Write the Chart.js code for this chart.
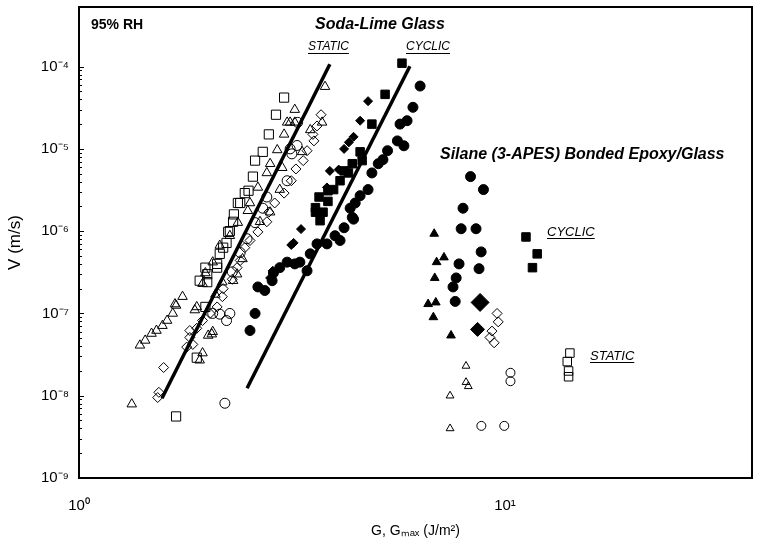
<!DOCTYPE html>
<html><head><meta charset="utf-8">
<script src="https://cdn.jsdelivr.net/npm/chart.js@4/dist/chart.umd.min.js"></script>
<style>html,body{margin:0;padding:0;background:#fff}#wrap{width:758px;height:546px;position:relative}</style>
</head><body><div id="wrap"><canvas id="c"></canvas></div>
<script>
// ---- data: [G (J/m^2), V (m/s)] ----
const sodaStaticSquares = [[3.03,4.2e-5],[2.90,2.6e-5],[2.79,1.5e-5],[2.70,9.2e-6],[2.59,7.2e-6],[2.56,4.6e-6],[2.50,3.1e-6],[2.45,2.9e-6],[2.36,2.2e-6],[2.39,2.2e-6],[2.31,1.6e-6],[2.30,1.3e-6],[2.24,9.8e-7],[2.26,1.0e-6],[2.22,7.2e-7],[2.18,6.3e-7],[2.14,5.3e-7],[2.11,4.0e-7],[2.11,3.6e-7],[1.98,3.6e-7],[2.00,3.0e-7],[2.00,2.4e-7],[1.92,2.5e-7],[1.98,1.2e-7],[1.89,2.9e-8],[1.69,5.6e-9]];
const sodaStaticTriangles = [[3.78,5.7e-5],[3.21,3.0e-5],[3.08,2.1e-5],[3.13,2.1e-5],[3.21,2.1e-5],[3.03,1.5e-5],[2.92,9.7e-6],[2.81,6.6e-6],[2.76,5.1e-6],[2.63,3.4e-6],[2.52,2.2e-6],[2.49,1.77e-6],[2.36,1.27e-6],[2.26,8.8e-7],[2.14,6.7e-7],[2.06,4.2e-7],[1.98,3.1e-7],[1.95,2.3e-7],[1.75,1.6e-7],[1.68,1.3e-7],[1.87,1.1e-7],[2.09,1.7e-7],[2.17,2.4e-7],[2.30,2.5e-7],[2.35,3.0e-7],[2.42,4.6e-7],[3.72,2.1e-5],[3.49,1.7e-5],[3.34,9.2e-6],[3.00,5.9e-6],[2.96,3.2e-6],[2.81,1.7e-6],[2.66,1.3e-6],[2.05,5.6e-8],[1.39,4.1e-8],[1.43,4.7e-8],[1.48,5.7e-8],[1.52,6.2e-8],[1.57,7.1e-8],[1.61,8.2e-8],[1.66,1.0e-7],[1.69,1.25e-7],[1.89,1.2e-7],[1.95,3.3e-8],[1.92,2.7e-8],[2.06,6.0e-8],[2.01,5.4e-8],[1.33,7.9e-9]];
const sodaStaticCircles = [[3.26,2.1e-5],[3.25,1.1e-5],[3.13,1.0e-5],[3.16,8.7e-6],[3.08,4.1e-6],[2.76,2.6e-6],[2.70,1.9e-6],[2.59,1.27e-6],[2.48,8.1e-7],[2.39,5.5e-7],[2.29,3.2e-7],[2.26,1.0e-7],[2.22,8.2e-8],[2.14,9.8e-8],[2.06,1.0e-7],[2.20,8.1e-9]];
const sodaStaticDiamonds = [[3.70,2.6e-5],[3.62,1.9e-5],[3.54,1.5e-5],[3.56,1.25e-5],[3.43,9.5e-6],[3.36,7.2e-6],[3.23,5.7e-6],[3.15,4.1e-6],[3.03,2.9e-6],[2.88,2.2e-6],[2.79,1.7e-6],[2.76,1.3e-6],[2.63,9.8e-7],[2.52,7.7e-7],[2.45,6.3e-7],[2.39,4.4e-7],[2.35,3.6e-7],[2.29,2.6e-7],[2.18,2.0e-7],[2.17,1.6e-7],[2.11,1.2e-7],[2.03,1.0e-7],[1.95,8.2e-8],[1.89,6.6e-8],[1.82,6.2e-8],[1.85,4.2e-8],[1.82,5.1e-8],[1.79,3.9e-8],[1.58,2.2e-8],[1.54,1.1e-8],[1.53,9.5e-9]];
const sodaCyclicSquares = [[5.73,1.1e-4],[5.23,4.6e-5],[4.87,2.0e-5],[4.57,9.2e-6],[4.62,7.2e-6],[4.38,6.6e-6],[4.29,5.1e-6],[4.19,5.4e-6],[4.10,4.1e-6],[3.96,3.2e-6],[3.84,3.1e-6],[3.66,2.6e-6],[3.59,1.7e-6],[3.68,1.34e-6],[3.74,1.7e-6],[3.59,1.93e-6],[3.84,2.3e-6]];
const sodaCyclicDiamonds = [[4.77,3.8e-5],[4.57,2.2e-5],[4.41,1.4e-5],[4.30,1.2e-5],[4.19,1.0e-5],[4.07,5.6e-6],[3.88,5.4e-6],[3.82,3.4e-6],[3.32,1.06e-6],[3.19,7.2e-7],[3.15,6.8e-7],[2.85,3.3e-7],[2.81,2.7e-7]];
const sodaCyclicCircles = [[6.32,5.8e-5],[6.08,3.2e-5],[5.89,2.2e-5],[5.67,2.0e-5],[5.59,1.25e-5],[5.79,1.09e-5],[5.30,9.5e-6],[5.17,7.4e-6],[5.04,6.6e-6],[4.87,5.1e-6],[4.77,3.2e-6],[4.57,2.7e-6],[4.45,2.2e-6],[4.33,1.9e-6],[4.38,1.47e-6],[4.41,1.4e-6],[4.19,1.1e-6],[3.99,8.8e-7],[4.10,7.7e-7],[3.82,7.0e-7],[3.62,7.0e-7],[3.49,5.3e-7],[3.43,3.3e-7],[3.30,4.2e-7],[3.21,4.0e-7],[3.08,4.2e-7],[2.96,3.6e-7],[2.86,3.1e-7],[2.84,2.5e-7],[2.73,1.9e-7],[2.63,2.1e-7],[2.59,1.0e-7],[2.52,6.2e-8]];
const silaneCyclicCircles = [[8.3,4.6e-6],[8.9,3.2e-6],[7.97,1.9e-6],[7.89,1.07e-6],[8.55,1.07e-6],[8.79,5.6e-7],[7.80,4.0e-7],[8.69,3.5e-7],[7.68,2.7e-7],[7.55,2.1e-7],[7.64,1.4e-7]];
const silaneCyclicTriangles = [[6.82,9.3e-7],[7.19,4.8e-7],[6.91,4.2e-7],[6.84,2.7e-7],[6.60,1.3e-7],[6.88,1.36e-7],[6.79,9.0e-8],[7.47,5.4e-8]];
const silaneCyclicDiamonds = [[8.74,1.36e-7],[8.62,6.4e-8]];
const silaneCyclicSquares = [[11.2,8.5e-7],[11.9,5.3e-7],[11.6,3.6e-7]];
const silaneStaticTriangles = [[8.1,2.3e-8],[8.1,1.46e-8],[8.2,1.3e-8],[7.43,1.0e-8],[7.43,4.0e-9]];
const silaneStaticCircles = [[10.3,1.9e-8],[10.3,1.5e-8],[8.8,4.3e-9],[9.96,4.3e-9]];
const silaneStaticDiamonds = [[9.58,1.0e-7],[9.64,7.9e-8],[9.32,6.1e-8],[9.22,5.1e-8],[9.43,4.4e-8]];
const silaneStaticSquares = [[14.2,3.3e-8],[14.0,2.6e-8],[14.1,2.0e-8],[14.1,1.7e-8]];
const staticFitLine = [[1.566,9.3e-9],[3.88,1.07e-4]];
const cyclicFitLine = [[2.48,1.23e-8],[5.98,1.01e-4]];

const xTickValues = [1, 10];
const xTickLabels = ['10⁰', '10¹'];
const yTickValues = [1e-9, 1e-8, 1e-7, 1e-6, 1e-5, 1e-4];
const yTickLabels = ['10⁻⁹', '10⁻⁸', '10⁻⁷', '10⁻⁶', '10⁻⁵', '10⁻⁴'];
const xTitle = 'G, Gₘₐₓ (J/m²)';
const yTitle = 'V (m/s)';

const notes = [
  {text:'95% RH', x:91, y:25, font:'bold 14px "Liberation Sans", Arial, sans-serif'},
  {text:'Soda-Lime Glass', x:315, y:25, font:'italic bold 16px "Liberation Sans", Arial, sans-serif'},
  {text:'STATIC', x:308, y:47, font:'italic 12px "Liberation Sans", Arial, sans-serif', u:true},
  {text:'CYCLIC', x:406, y:47, font:'italic 12px "Liberation Sans", Arial, sans-serif', u:true},
  {text:'Silane (3-APES) Bonded Epoxy/Glass', x:440, y:155, font:'italic bold 16px "Liberation Sans", Arial, sans-serif'},
  {text:'CYCLIC', x:547, y:232, font:'italic 13px "Liberation Sans", Arial, sans-serif', u:true},
  {text:'STATIC', x:590, y:356, font:'italic 13px "Liberation Sans", Arial, sans-serif', u:true}
];

const toXY = arr => arr.map(p => ({x:p[0], y:p[1]}));
const OPEN = 'rgba(255,255,255,0)';
function pts(data, style, radius, filled){
  return {data: toXY(data), pointStyle: style, pointRadius: radius, pointHoverRadius: radius,
    pointBackgroundColor: filled ? '#000' : OPEN, pointBorderColor:'#000', pointBorderWidth:1, showLine:false};
}
function fit(data){
  return {data: toXY(data), showLine:true, borderColor:'#000', borderWidth:3.5, pointRadius:0, pointHoverRadius:0, fill:false};
}

const decor = {
  id:'decor',
  afterDatasetsDraw(chart){
    const {ctx, chartArea:a, scales} = chart;
    ctx.save();
    ctx.strokeStyle = '#000';
    ctx.lineWidth = 2;
    ctx.strokeRect(a.left, a.top, a.right - a.left, a.bottom - a.top);
    ctx.lineWidth = 1;
    const ys = scales.y;
    yTickValues.forEach((v, i) => {
      const py = Math.round(ys.getPixelForValue(v)) + 0.5;
      ctx.beginPath(); ctx.moveTo(a.left, py); ctx.lineTo(a.left + 5, py); ctx.stroke();
      if (i < yTickValues.length - 1) {
        for (let m = 2; m <= 9; m++) {
          const q = Math.round(ys.getPixelForValue(v * m)) + 0.5;
          ctx.beginPath(); ctx.moveTo(a.left, q); ctx.lineTo(a.left + 3, q); ctx.stroke();
        }
      }
    });
    ctx.fillStyle = '#000';
    ctx.textAlign = 'left';
    ctx.textBaseline = 'middle';
    notes.forEach(n => {
      ctx.font = n.font;
      ctx.fillText(n.text, n.x, n.y);
      if (n.u) {
        const w = ctx.measureText(n.text).width;
        ctx.fillRect(n.x, n.y + 6, w, 1);
      }
    });
    ctx.restore();
  }
};

new Chart(document.getElementById('c'), {
  type:'scatter',
  data:{datasets:[
    fit(staticFitLine),
    fit(cyclicFitLine),
    pts(sodaStaticSquares,'rect',6.5,false),
    pts(sodaStaticTriangles,'triangle',5.5,false),
    pts(sodaStaticCircles,'circle',5,false),
    pts(sodaStaticDiamonds,'rectRot',5,false),
    pts(sodaCyclicSquares,'rect',6,true),
    pts(sodaCyclicDiamonds,'rectRot',4.5,true),
    pts(sodaCyclicCircles,'circle',5,true),
    pts(silaneCyclicCircles,'circle',5,true),
    pts(silaneCyclicTriangles,'triangle',5,true),
    Object.assign(pts(silaneCyclicDiamonds,'rectRot',8,true), {pointRadius:[9,7]}),
    pts(silaneCyclicSquares,'rect',6,true),
    pts(silaneStaticTriangles,'triangle',4.5,false),
    pts(silaneStaticCircles,'circle',4.5,false),
    pts(silaneStaticDiamonds,'rectRot',5,false),
    pts(silaneStaticSquares,'rect',6,false)
  ]},
  options:{
    responsive:true, maintainAspectRatio:false, animation:false,
    layout:{autoPadding:false, padding:{left:0, right:6, top:7, bottom:0}},
    plugins:{legend:{display:false}, tooltip:{enabled:false}},
    events:[],
    scales:{
      x:{type:'logarithmic', position:'bottom', min:1, max:38,
        afterBuildTicks: s => { s.ticks = xTickValues.map(v => ({value:v})); },
        afterFit: s => { s.height = 68; s.paddingLeft = 0; s.paddingRight = 0; },
        ticks:{autoSkip:false, maxRotation:0, padding:19, color:'#000',
          font:{family:'"Liberation Sans", Arial, sans-serif', size:15},
          callback:(v, i) => xTickLabels[i]},
        grid:{display:false, drawTicks:false}, border:{display:false},
        title:{display:true, text:xTitle, color:'#000', padding:{top:0, bottom:6},
          font:{family:'"Liberation Sans", Arial, sans-serif', size:14}}
      },
      y:{type:'logarithmic', position:'left', min:1e-9, max:5.3e-4,
        afterBuildTicks: s => { s.ticks = yTickValues.map(v => ({value:v})); },
        afterFit: s => { s.width = 79; s.paddingTop = 0; s.paddingBottom = 0; },
        ticks:{autoSkip:false, padding:10, color:'#000',
          font:{family:'"Liberation Sans", Arial, sans-serif', size:15},
          callback:(v, i) => yTickLabels[i]},
        grid:{display:false, drawTicks:false}, border:{display:false},
        title:{display:true, text:yTitle, color:'#000', padding:{top:5, bottom:0},
          font:{family:'"Liberation Sans", Arial, sans-serif', size:17}}
      }
    }
  },
  plugins:[decor]
});
</script></body></html>
